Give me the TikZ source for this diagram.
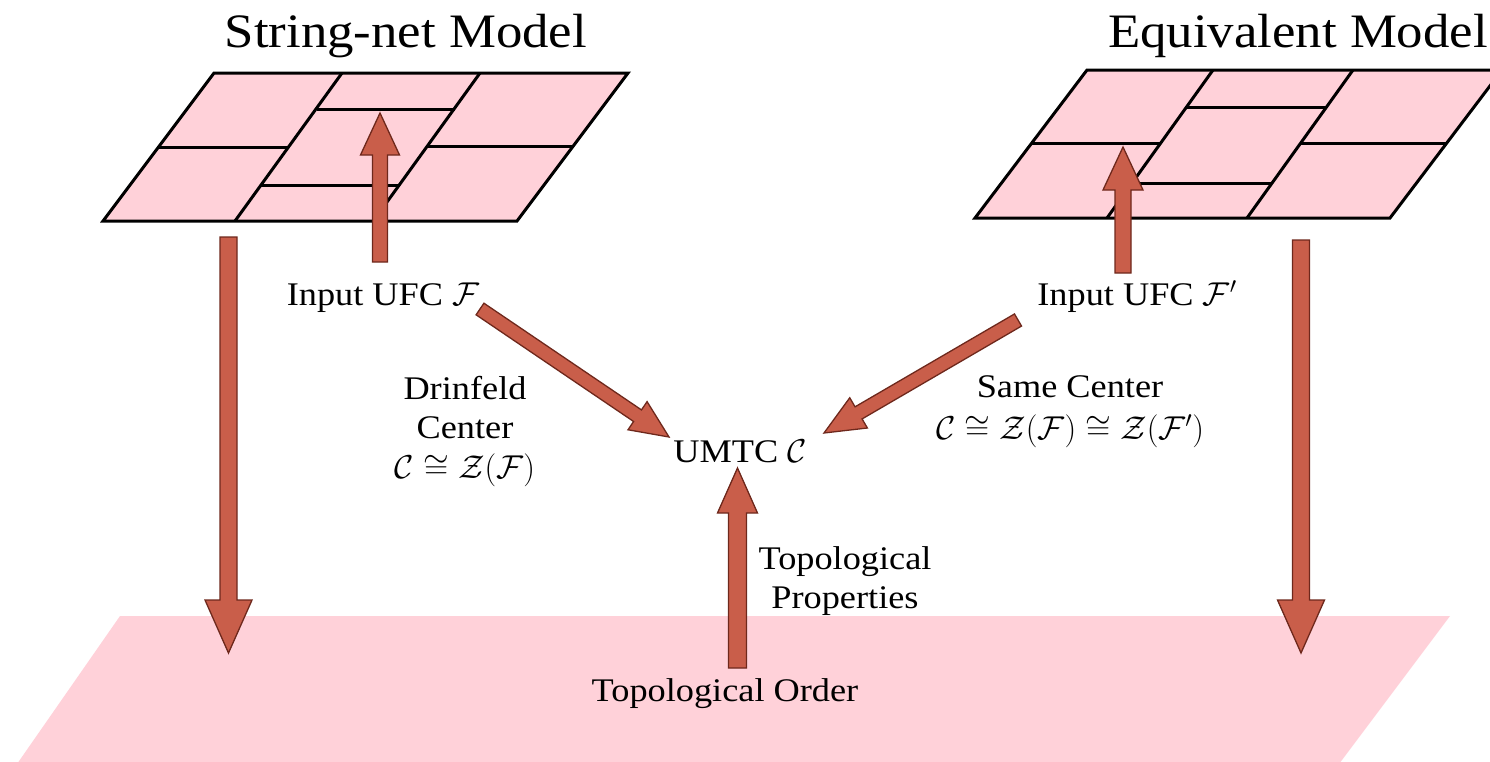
\RequirePackage{fix-cm}
\documentclass[tikz,border=0pt]{standalone}
\usepackage{fontspec}
\setmainfont[FakeStretch=1.1]{Liberation Serif}
\usetikzlibrary{calc}

\definecolor{sheet}{RGB}{255,209,217}
\definecolor{brick}{RGB}{201,94,74}
\definecolor{brickline}{RGB}{110,40,28}

% block arrow: tail, tip, half shaft width, half head width, head length
\newcommand{\fatarrow}[5]{%
	\coordinate (fa-b) at ($(#2)!#5!(#1)$);
	\filldraw[fat] ($(#1)!#3!90:(#2)$) -- ($(fa-b)!#3!-90:(#1)$) -- ($(fa-b)!#4!-90:(#1)$) -- (#2)
		-- ($(fa-b)!#4!90:(#1)$) -- ($(fa-b)!#3!90:(#1)$) -- ($(#1)!#3!-90:(#2)$) -- cycle;
}

\begin{document}
\begin{tikzpicture}[x=1pt,y=-1pt,
		lbl/.style={font=\fontsize{33}{39}\selectfont, inner sep=0pt, align=center},
		ttl/.style={font=\fontsize{48}{52}\selectfont, inner sep=0pt},
		fat/.style={fill=brick, draw=brickline, line width=1.3pt, line join=miter},
		net/.style={line width=3pt, line join=miter}]
		\useasboundingbox (0,0) rectangle (1490,761);
		\clip (0,0) rectangle (1490,761);
		
		% the floor
		\fill[sheet] (120,616) -- (1450,616) -- (1339,764) -- (17,764) -- cycle;
		
		% string-net lattice
		\filldraw[net, fill=sheet] (214,73) -- (628,73) -- (517,221) -- (103,221) -- cycle;
		\draw[net] (342,73) -- (235,221);
		\draw[net] (480,73) -- (387,202);
		\draw[net] (159,147) -- (288,147);
		\draw[net] (317,109) -- (455,109);
		\draw[net] (261,185) -- (400,185);
		\draw[net] (427,146) -- (573,146);
		
		% equivalent lattice
		\filldraw[net, fill=sheet] (1087,70) -- (1502,70) -- (1390,218) -- (975,218) -- cycle;
		\draw[net] (1213,70) -- (1107,218);
		\draw[net] (1353,70) -- (1247,218);
		\draw[net] (1032,143) -- (1161,143);
		\draw[net] (1186,107) -- (1327,107);
		\draw[net] (1132,183) -- (1272,183);
		\draw[net] (1301,143) -- (1447,143);
		
		\node[ttl, anchor=base] (snTitle) at (406,47) {String-net Model};
		\node[ttl, anchor=base] (eqTitle) at (1298,47) {Equivalent Model};
		
		\node[lbl, anchor=base] (inF) at (383,305) {Input UFC $\mathcal{F}$};
		\node[lbl, anchor=base] (inFp) at (1137,305) {Input UFC $\mathcal{F}'$};
		\node[lbl, anchor=base] (umtc) at (740,462) {UMTC $\mathcal{C}$};
		\node[lbl, anchor=north] (drin) at (465,376) {Drinfeld\\Center\\[1pt]$\mathcal{C}\cong\mathcal{Z}(\mathcal{F})$};
		\node[lbl, anchor=north] (same) at (1070,375) {Same Center\\[3pt]$\mathcal{C}\cong\mathcal{Z}(\mathcal{F})\cong\mathcal{Z}(\mathcal{F}')$};
		\node[lbl, anchor=north] (props) at (845,546) {Topological\\Properties};
		\node[lbl, anchor=base] (order) at (725,701) {Topological Order};
		
		\coordinate (snFoot) at (228.5,237);
		\coordinate (snFloor) at (228.5,653);
		\coordinate (eqFoot) at (1301,240);
		\coordinate (eqFloor) at (1301,653);
		\coordinate (fUp) at (380,262);
		\coordinate (fIn) at (380,113);
		\coordinate (fpUp) at (1123,273);
		\coordinate (fpIn) at (1123,147);
		\coordinate (fTail) at (480,309);
		\coordinate (fTip) at (669,437);
		\coordinate (fpTail) at (1018,320);
		\coordinate (fpTip) at (824,433);
		\coordinate (ordUp) at (737.5,668);
		\coordinate (ordTip) at (737.5,468);
		
		\fatarrow{snFoot}{snFloor}{8.5pt}{23.5pt}{53pt}
		\fatarrow{eqFoot}{eqFloor}{8.5pt}{23.5pt}{53pt}
		\fatarrow{fUp}{fIn}{7.5pt}{19.5pt}{42pt}
		\fatarrow{fpUp}{fpIn}{8pt}{20pt}{43pt}
		\fatarrow{fTail}{fTip}{7pt}{17pt}{38pt}
		\fatarrow{fpTail}{fpTip}{7pt}{17.5pt}{40pt}
		\fatarrow{ordUp}{ordTip}{9pt}{20pt}{45pt}
\end{tikzpicture}
\end{document}
